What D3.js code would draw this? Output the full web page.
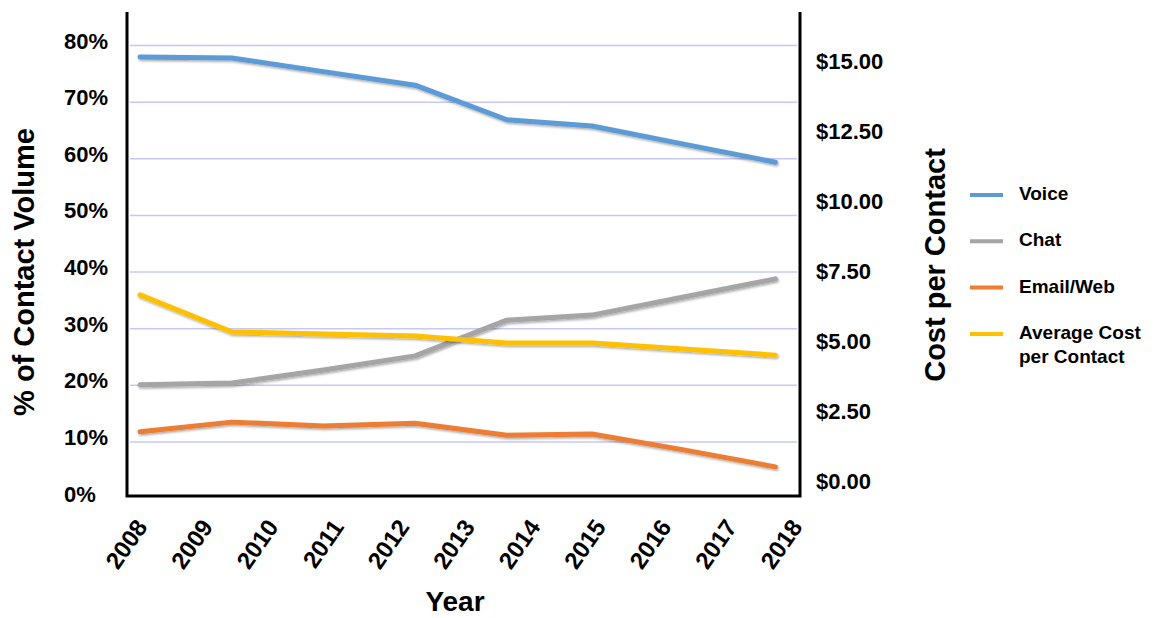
<!DOCTYPE html>
<html>
<head>
<meta charset="utf-8">
<script src="https://cdn.jsdelivr.net/npm/d3@7"></script>
<style>
  body { margin: 0; background: #fff; }
  svg { display: block; font-family: "Liberation Sans", Arial, sans-serif; font-weight: bold; }
  .grid line { stroke: #c8c8f6; stroke-width: 1.5px; }
  .grid .domain { display: none; }
  .axis-frame { stroke: #000; stroke-width: 3px; fill: none; }
</style>
</head>
<body>
<svg id="chart" width="1155" height="618"></svg>
<script>
// tick labels
const years = [2008, 2009, 2010, 2011, 2012, 2013, 2014, 2015, 2016, 2017, 2018];
const shareTicks = [0, 10, 20, 30, 40, 50, 60, 70, 80];
const costTicks = [0, 2.5, 5, 7.5, 10, 12.5, 15];

// the plotted points do not sit on the year ticks in the original, so keep their own x values
const pointYears = [2008.0, 2009.4, 2010.8, 2012.2, 2013.6, 2014.9, 2016.3, 2017.7];

// % of contact volume (left axis)
const voiceShare = [77.9, 77.7, 75.3, 72.9, 66.8, 65.7, 62.5, 59.3];
const chatShare  = [20.0, 20.3, 22.6, 25.1, 31.4, 32.3, 35.5, 38.7];
const emailShare = [11.7, 13.4, 12.7, 13.2, 11.1, 11.3, 8.5, 5.5];
// average cost per contact in $ (right axis)
const avgCost = [6.61, 5.29, 5.21, 5.14, 4.89, 4.89, 4.68, 4.46];

const seriesNames = ["Voice", "Chat", "Email/Web", "Average Cost per Contact"];
const seriesColors = ["#5b9bd5", "#a5a5a5", "#ed7d31", "#ffc000"];

const svg = d3.select("#chart");

const plot = { left: 127, right: 800, top: 12, bottom: 496 };

const x = d3.scaleLinear().domain([2008, 2018]).range([140, 795]);
const yShare = d3.scaleLinear().domain([0, 80]).range([498, 45]);
const yCost = d3.scaleLinear().domain([0, 15]).range([480, 60]);

// shadow under the lines
const defs = svg.append("defs");
defs.append("filter")
    .attr("id", "shadow")
    .attr("x", "-5%").attr("y", "-20%")
    .attr("width", "110%").attr("height", "140%")
  .append("feDropShadow")
    .attr("dx", 1).attr("dy", 1.5)
    .attr("stdDeviation", 1)
    .attr("flood-color", "#000")
    .attr("flood-opacity", 0.35);

// gridlines
svg.append("g")
    .attr("class", "grid")
    .attr("transform", "translate(130,0)")
    .call(d3.axisLeft(yShare)
        .tickValues(shareTicks.filter(d => d > 0))
        .tickSize(-667)
        .tickFormat(""));

// series
const series = [
    { name: seriesNames[0], color: seriesColors[0], values: voiceShare, y: yShare },
    { name: seriesNames[1], color: seriesColors[1], values: chatShare, y: yShare },
    { name: seriesNames[2], color: seriesColors[2], values: emailShare, y: yShare },
    { name: seriesNames[3], color: seriesColors[3], values: avgCost, y: yCost }
];

svg.append("g")
    .selectAll("path")
    .data(series)
    .enter()
    .append("path")
    .attr("fill", "none")
    .attr("stroke", d => d.color)
    .attr("stroke-width", 5)
    .attr("stroke-linejoin", "round")
    .attr("stroke-linecap", "round")
    .attr("filter", "url(#shadow)")
    .attr("d", d => d3.line()
        .x((v, i) => x(pointYears[i]))
        .y(v => d.y(v))(d.values));

// frame: left, bottom, right
svg.append("path")
    .attr("class", "axis-frame")
    .attr("d", "M" + plot.left + "," + plot.top + "V" + plot.bottom + "H" + plot.right + "V" + plot.top);

// left axis labels
const leftAxis = svg.append("g")
    .attr("transform", "translate(" + plot.left + ",0)")
    .call(d3.axisLeft(yShare).tickValues(shareTicks).tickSize(0).tickFormat(d => d + "%"));
leftAxis.select(".domain").remove();
leftAxis.selectAll("text")
    .attr("x", 64 - plot.left)
    .attr("dy", 3)
    .attr("text-anchor", "start")
    .attr("fill", "#000")
    .style("font-size", "22px")
    .style("font-family", "'Liberation Sans', Arial, sans-serif")
    .style("font-weight", "bold");

// right axis labels
const rightAxis = svg.append("g")
    .attr("transform", "translate(" + plot.right + ",0)")
    .call(d3.axisRight(yCost).tickValues(costTicks).tickSize(0).tickFormat(d => "$" + d.toFixed(2)));
rightAxis.select(".domain").remove();
rightAxis.selectAll("text")
    .attr("x", 16)
    .attr("dy", 8)
    .attr("text-anchor", "start")
    .attr("fill", "#000")
    .style("font-size", "22px")
    .style("font-family", "'Liberation Sans', Arial, sans-serif")
    .style("font-weight", "bold");

// year labels
const bottomAxis = svg.append("g")
    .attr("transform", "translate(0," + plot.bottom + ")")
    .call(d3.axisBottom(x).tickValues(years).tickSize(0).tickFormat(d3.format("d")));
bottomAxis.select(".domain").remove();
bottomAxis.selectAll("text")
    .attr("x", 0).attr("y", 0).attr("dy", 0)
    .attr("text-anchor", "end")
    .attr("transform", "translate(8,31) rotate(-55)")
    .attr("fill", "#000")
    .style("font-size", "24px")
    .style("font-family", "'Liberation Sans', Arial, sans-serif")
    .style("font-weight", "bold");

// axis titles
svg.append("text")
    .attr("transform", "translate(34,272) rotate(-90)")
    .attr("text-anchor", "middle")
    .style("font-size", "29px")
    .text("% of Contact Volume");

svg.append("text")
    .attr("transform", "translate(945,265) rotate(-90)")
    .attr("text-anchor", "middle")
    .style("font-size", "29px")
    .text("Cost per Contact");

svg.append("text")
    .attr("x", 455).attr("y", 611)
    .attr("text-anchor", "middle")
    .style("font-size", "28px")
    .text("Year");

// legend
const legend = svg.append("g")
    .selectAll("g")
    .data(series)
    .enter()
    .append("g")
    .attr("transform", (d, i) => "translate(970," + (195 + i * 46.3) + ")");

legend.append("line")
    .attr("x1", 0).attr("x2", 33)
    .attr("stroke", d => d.color)
    .attr("stroke-width", 4);

const legendText = legend.append("text")
    .attr("x", 49)
    .attr("y", 5)
    .style("font-size", "19px");

legendText.each(function(d) {
    const t = d3.select(this);
    if (d.name === "Average Cost per Contact") {
        t.append("tspan").attr("x", 49).text("Average Cost");
        t.append("tspan").attr("x", 49).attr("dy", 24).text("per Contact");
    } else {
        t.text(d.name);
    }
});
</script>
</body>
</html>
